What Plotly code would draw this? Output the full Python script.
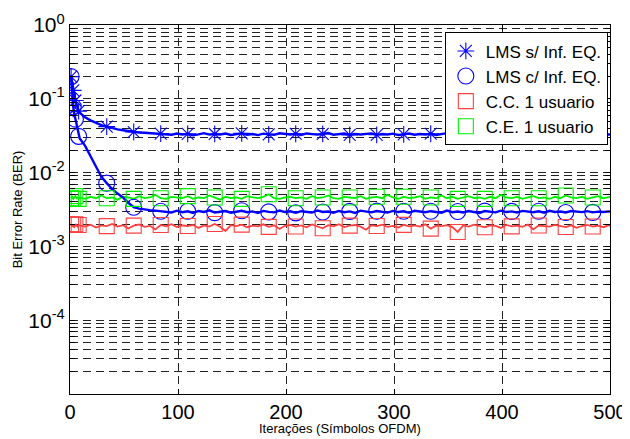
import plotly.graph_objects as go

# iteration axis (OFDM symbols)
iters = [1, 2, 3, 4, 5, 6, 7, 8] + list(range(9, 500, 5)) + [500]
# indices of samples that carry a marker
marker_idx = [0, 2, 4, 7] + list(range(13, len(iters) - 4, 5))

# BER values in units of 1e-3
lms_sem_e3 = [200, 160, 130, 110, 95, 85, 75, 68,
              65, 56, 51, 47, 44, 42, 40, 38.5, 37.5, 36.5, 35.5, 35, 34.6, 34.2, 34.5, 33.8,
              33.2, 32.6, 33.9, 32.8, 33.5, 32.1, 33.0, 34.2, 32.7, 33.4,
              32.9, 33.8, 32.4, 33.1, 34.0, 32.6, 33.3, 32.2, 33.7, 33.0,
              32.5, 34.1, 33.2, 32.8, 33.6, 32.3, 33.9, 33.0, 32.7, 33.4,
              34.3, 32.6, 33.1, 33.8, 32.4, 33.5, 32.9, 33.2, 34.0, 32.5,
              33.3, 32.8, 33.7, 32.2, 33.0, 33.9, 32.6, 33.4, 32.9, 33.6,
              32.3, 33.1, 34.2, 32.7, 33.5, 32.8, 33.2, 33.9, 32.4, 33.0,
              33.6, 32.5, 33.3, 34.1, 32.7, 33.0, 32.6, 33.8, 32.9, 33.4,
              32.3, 33.2, 33.7, 32.5, 33.0, 33.9, 32.8, 33.3, 32.4, 33.6,
              32.9, 33.1, 32.7, 32.8]

lms_com_e3 = [200, 100, 78, 62, 53, 45, 37, 31,
              29, 23, 16.5, 12, 8.8, 7.2, 6.0, 5.2, 4.6, 3.9, 3.4, 3.25, 3.15, 3.1, 3.05, 3.0,
              2.96, 2.88, 3.05, 2.91, 2.99, 2.84, 3.02, 2.93, 3.08, 2.87,
              2.95, 3.01, 2.86, 2.97, 3.04, 2.90, 2.98, 2.83, 3.03, 2.94,
              2.89, 3.06, 2.92, 2.99, 2.85, 3.00, 2.96, 2.88, 3.07, 2.93,
              2.97, 2.86, 3.02, 2.91, 2.98, 2.84, 3.05, 2.94, 2.89, 3.01,
              2.95, 2.87, 3.03, 2.92, 2.99, 2.85, 3.04, 2.96, 2.90, 3.00,
              2.93, 2.86, 3.06, 2.91, 2.97, 2.88, 3.02, 2.95, 2.84, 3.01,
              2.94, 2.89, 3.05, 2.92, 2.98, 2.87, 3.03, 2.96, 2.90, 2.99,
              2.86, 3.04, 2.93, 2.97, 2.88, 3.02, 2.95, 2.91, 3.00, 2.89,
              2.96, 2.92, 2.98, 2.94]

cc_e3 = [2.0, 1.85, 1.95, 1.8, 2.0, 1.9, 1.85, 1.95,
         1.92, 1.85, 1.97, 1.80, 1.93, 1.88, 2.02, 1.86, 1.94, 1.75,
         1.91, 1.98, 1.84, 1.90, 1.70, 1.95, 1.87, 2.00, 1.83, 1.92,
         1.89, 1.96, 1.78, 1.93, 1.86, 2.01, 1.85, 1.62, 1.94, 1.88,
         1.97, 1.82, 1.91, 1.87, 1.99, 1.84, 1.93, 1.72, 1.90, 1.96,
         1.86, 1.92, 1.81, 1.98, 1.88, 1.76, 1.94, 1.87, 2.00, 1.83,
         1.91, 1.95, 1.85, 1.68, 1.93, 1.89, 1.97, 1.84, 1.90, 1.80,
         1.96, 1.87, 1.92, 1.86, 1.99, 1.74, 1.91, 1.88, 1.94, 1.83,
         1.57, 1.92, 1.86, 1.97, 1.89, 1.82, 1.93, 1.90, 1.78, 1.95,
         1.87, 1.91, 1.84, 1.98, 1.70, 1.92, 1.88, 1.85, 1.96, 1.90,
         1.83, 1.93, 1.79, 1.89, 1.95, 1.86, 1.91, 1.82, 1.94, 1.88]

ce_e3 = [4.5, 4.7, 4.4, 4.6, 4.8, 4.5, 4.6, 4.4,
         4.6, 4.4, 4.7, 4.5, 4.9, 4.5, 4.6, 4.3, 4.7, 4.6,
         4.4, 4.8, 4.5, 4.6, 5.0, 4.5, 4.4, 4.7, 4.6, 4.5,
         4.8, 4.4, 4.6, 4.5, 4.9, 4.6, 4.3, 4.7, 4.5, 4.6,
         4.4, 4.8, 4.6, 4.5, 4.7, 5.1, 4.5, 4.4, 4.6, 4.7,
         4.5, 4.6, 4.4, 4.8, 4.5, 4.6, 4.9, 4.5, 4.4, 4.7,
         4.6, 4.5, 4.8, 4.4, 4.6, 4.7, 4.5, 5.0, 4.6, 4.4,
         4.7, 4.5, 4.6, 4.8, 4.4, 4.6, 4.5, 4.9, 4.5, 4.7,
         4.4, 4.6, 4.8, 4.5, 4.6, 4.4, 4.7, 4.5, 5.0, 4.6,
         4.5, 4.7, 4.4, 4.6, 4.8, 4.5, 4.6, 4.4, 4.7, 4.5,
         4.9, 4.6, 4.5, 4.7, 4.4, 4.6, 4.8, 4.5, 4.6, 4.7]

series_names = ["LMS s/ Inf. EQ.", "LMS c/ Inf. EQ.", "C.C. 1 usuario", "C.E. 1 usuario"]
x_tick_vals = [0, 100, 200, 300, 400, 500]
y_decades = [-5, -4, -3, -2, -1, 0]
y_labeled_decades = [-4, -3, -2, -1, 0]

BLUE = "#0000ff"
RED = "#ff4040"
GREEN = "#00f000"
FONT = "Arial, Liberation Sans, sans-serif"

def ber(vals):
    return [v * 1e-3 for v in vals]

series = [
    (series_names[0], ber(lms_sem_e3), BLUE, "asterisk-open", 14, 2.4),
    (series_names[1], ber(lms_com_e3), BLUE, "circle-open", 16, 2.4),
    (series_names[2], ber(cc_e3), RED, "square-open", 15, 1.8),
    (series_names[3], ber(ce_e3), GREEN, "square-open", 15, 1.8),
]

fig = go.Figure()

# lines (draw red/green first, blue on top)
for name, y, color, sym, size, lw in [series[2], series[3], series[1], series[0]]:
    fig.add_trace(go.Scatter(x=iters, y=y, mode="lines", line=dict(color=color, width=lw),
                             showlegend=False, hoverinfo="skip"))

# markers (legend entries)
for name, y, color, sym, size, lw in series:
    fig.add_trace(go.Scatter(
        x=[iters[i] for i in marker_idx], y=[y[i] for i in marker_idx],
        mode="markers", name=name,
        marker=dict(symbol=sym, size=size, color=color, line=dict(color=color, width=1.1)),
    ))

# y ticks: all 1..9 x 10^k
y_tickvals, y_ticktext = [], []
for d in y_decades:
    for m in range(1, 10):
        if d == 0 and m > 1:
            break
        y_tickvals.append(m * 10.0 ** d)
        y_ticktext.append(f"10<sup>{d}</sup>" if (m == 1 and d in y_labeled_decades) else "")

# the page adds an 8px body margin, so the figure is 8px smaller than the window
fig.update_layout(
    width=622, height=431,
    margin=dict(l=62, r=20, t=17, b=45),
    paper_bgcolor="white", plot_bgcolor="white",
    font=dict(family=FONT, color="black"),
    legend=dict(x=0.996, y=0.98, xanchor="right", yanchor="top",
                bgcolor="white", bordercolor="black", borderwidth=1,
                font=dict(size=17, family=FONT), tracegroupgap=0,
                itemwidth=30),
    annotations=[dict(text="Iterações (Símbolos OFDM)", xref="paper", yref="paper",
                      x=0.5, y=-(428 - 394) / 369, xanchor="center", yanchor="middle",
                      showarrow=False, font=dict(size=13, family=FONT))],
)

fig.update_xaxes(
    range=[0, 500], tickvals=x_tick_vals, automargin=False,
    ticks="inside", ticklen=5, tickcolor="black",
    showline=True, linecolor="black", linewidth=1.2, mirror="ticks",
    showgrid=True, gridcolor="#222222", gridwidth=0.8, griddash="8px,5px",
    zeroline=False,
    tickfont=dict(size=20),
)
fig.update_yaxes(
    type="log", range=[-5, 0], automargin=False,
    tickvals=y_tickvals, ticktext=y_ticktext,
    ticks="inside", ticklen=5, tickcolor="black",
    showline=True, linecolor="black", linewidth=1.2, mirror="ticks",
    showgrid=True, gridcolor="#222222", gridwidth=0.8, griddash="8px,5px",
    zeroline=False,
    tickfont=dict(size=21),
    title=dict(text="Bit Error Rate (BER)", font=dict(size=13), standoff=2),
)

fig.write_html("out.html")
